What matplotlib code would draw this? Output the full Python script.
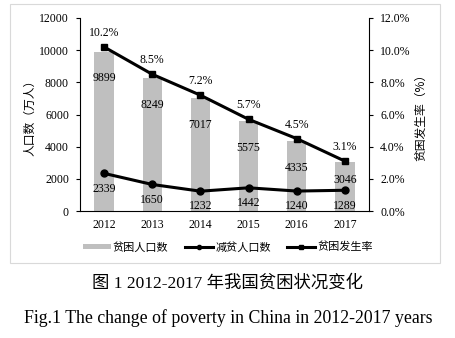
import matplotlib
matplotlib.use("Agg")
import matplotlib.pyplot as plt
from matplotlib.patches import Rectangle
from matplotlib.ticker import PercentFormatter

years = ["2012", "2013", "2014", "2015", "2016", "2017"]
poor_pop = [9899, 8249, 7017, 5575, 4335, 3046]
reduced_pop = [2339, 1650, 1232, 1442, 1240, 1289]
poverty_rate = [10.2, 8.5, 7.2, 5.7, 4.5, 3.1]

SERIF = "Liberation Serif"
CJK = ["Noto Sans CJK SC", "DejaVu Sans"]
FS = 8.5

fig = plt.figure(figsize=(4.56, 3.38), dpi=100)
# chart frame
fig.patches.append(Rectangle((10 / 456, 1 - 263 / 338), 430 / 456, 259 / 338,
                             transform=fig.transFigure, fill=False,
                             edgecolor="#d9d9d9", linewidth=0.8))

ax = fig.add_axes([80 / 456, 1 - 211 / 338, 289 / 456, 193 / 338])
x = range(len(years))

ax.bar(x, poor_pop, width=0.4, color="#bfbfbf", label="贫困人口数", zorder=1)
ax.plot(x, reduced_pop, color="black", lw=2.2, marker="o", ms=5, label="减贫人口数", zorder=3)

ax.set_ylim(0, 12000)
ax.set_yticks(range(0, 12001, 2000))
ax.set_xlim(-0.5, 5.5)
ax.set_xticks(list(x))
ax.set_xticklabels(years)
for s in ["top", "right"]:
    ax.spines[s].set_visible(False)
ax.tick_params(axis="x", length=0, pad=6)
ax.tick_params(axis="y", length=3, direction="out", pad=5)
for lab in ax.get_xticklabels() + ax.get_yticklabels():
    lab.set_fontfamily(SERIF)
    lab.set_fontsize(FS)
ax.set_ylabel("人口数（万人）", family=CJK, fontsize=8.5, labelpad=2)

for i, v in enumerate(poor_pop):
    off = -13 if i == len(poor_pop) - 1 else -19
    ax.annotate(str(v), (i, v), xytext=(0, off), textcoords="offset points",
                ha="center", va="center", family=SERIF, fontsize=FS)
for i, v in enumerate(reduced_pop):
    ax.annotate(str(v), (i, v), xytext=(0, -11), textcoords="offset points",
                ha="center", va="center", family=SERIF, fontsize=FS)

ax2 = ax.twinx()
ax2.plot(x, poverty_rate, color="black", lw=2.2, marker="s", ms=5, label="贫困发生率", zorder=3)
ax2.set_ylim(0, 12)
ax2.set_yticks(range(0, 13, 2))
ax2.yaxis.set_major_formatter(PercentFormatter(decimals=1))
for s in ["top", "left", "bottom"]:
    ax2.spines[s].set_visible(False)
ax2.tick_params(axis="y", length=3, direction="out", pad=5)
for lab in ax2.get_yticklabels():
    lab.set_fontfamily(SERIF)
    lab.set_fontsize(FS)
ax2.set_ylabel("贫困发生率（%）", family=CJK, fontsize=8.5, rotation=90, labelpad=3)

for i, v in enumerate(poverty_rate):
    ax2.annotate(f"{v}%", (i, v), xytext=(0, 10), textcoords="offset points",
                 ha="center", va="center", family=SERIF, fontsize=FS)

h1, l1 = ax.get_legend_handles_labels()
h2, l2 = ax2.get_legend_handles_labels()
handles = h1 + h2
labels = l1 + l2
order = [labels.index("贫困人口数"), labels.index("减贫人口数"), labels.index("贫困发生率")]
fig.legend([handles[k] for k in order], [labels[k] for k in order], loc="center",
           bbox_to_anchor=(228 / 456, 1 - 247 / 338),
           ncol=3, frameon=False, prop={"family": CJK, "size": 8},
           handlelength=2.5, handleheight=0.4, columnspacing=1.5,
           handletextpad=0.2, markerscale=0.6)

fig.text(0.5, 1 - 283 / 338, "图 1 2012-2017 年我国贫困状况变化", ha="center", va="center",
         family=["Liberation Serif", "Noto Sans CJK SC"], fontsize=12.5)
fig.text(0.5, 1 - 318 / 338, "Fig.1 The change of poverty in China in 2012-2017 years",
         ha="center", va="center", family=SERIF, fontsize=12.8)

fig.savefig("out.png", dpi=100)
